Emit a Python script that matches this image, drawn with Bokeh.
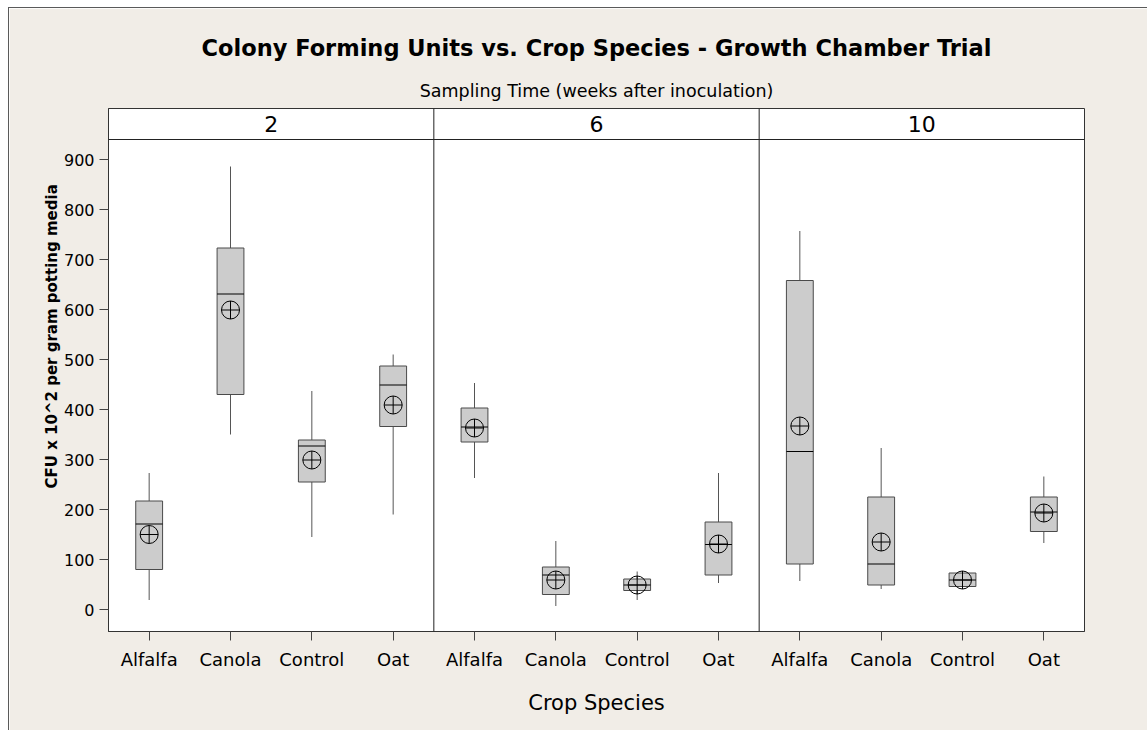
import numpy as np
from bokeh.plotting import figure
from bokeh.models import Range1d, FixedTicker, Span, Title
from bokeh.embed import file_html
from bokeh.resources import INLINE
from bokeh.core.properties import value

# ---------------- data ----------------
weeks = ["2", "6", "10"]
species = ["Alfalfa", "Canola", "Control", "Oat"]
# order: week 2 (Alfalfa, Canola, Control, Oat), week 6 (...), week 10 (...)
whisker_high = [273, 886, 437, 510, 453, 137, 76, 273, 757, 323, 76, 266]
q3 = [217, 723, 339, 487, 403, 85, 61, 175, 658, 225, 73, 225]
median = [171, 631, 327, 449, 365, 69, 49, 130, 316, 91, 59, 195]
mean = [150, 599, 299, 409, 363, 59, 49, 131, 367, 135, 59, 193]
q1 = [80, 430, 255, 366, 335, 30, 38, 69, 91, 49, 46, 156]
whisker_low = [19, 350, 145, 190, 263, 7, 19, 53, 57, 41, 43, 133]
y_ticks = [0, 100, 200, 300, 400, 500, 600, 700, 800, 900]

title_text = "Colony Forming Units vs. Crop Species - Growth Chamber Trial"
panel_text = "Sampling Time (weeks after inoculation)"
x_label = "Crop Species"
y_label = "CFU x 10^2 per gram potting media"

# ---------------- layout ----------------
FONT = "DejaVu Sans"
BG = "#F1EDE7"
n_groups = len(weeks)
n_cat = len(species)
pos = np.arange(1, n_groups * n_cat + 1, dtype=float)
box_w = 0.33
header_base = 940

p = figure(width=1139, height=723, output_backend="svg", toolbar_location=None,
           x_range=Range1d(0.5, n_groups * n_cat + 0.5), y_range=Range1d(-44, 1002),
           min_border_left=99, min_border_right=64, min_border_top=100, min_border_bottom=100)
p.styles = {"margin-left": "8px", "margin-top": "7px",
            "border-left": "1px solid #5a5a5a", "border-top": "1px solid #5a5a5a"}
p.border_fill_color = BG
p.background_fill_color = "white"
p.outline_line_color = "#333333"
p.outline_line_width = 1
p.xgrid.visible = False
p.ygrid.visible = False

# titles
p.add_layout(Title(text=panel_text, align="center", text_font=FONT, text_font_size="17.5px",
                   text_font_style="normal", text_color="black", standoff=15), "above")
p.add_layout(Title(text=title_text, align="center", text_font=FONT, text_font_size="22.5px",
                   text_font_style="bold", text_color="black", standoff=22), "above")
p.add_layout(Title(text=y_label, align="left", text_font=FONT, text_font_size="15px",
                   text_font_style="bold", text_color="black", standoff=0, offset=143), "left")

# axes
p.xaxis.ticker = FixedTicker(ticks=list(pos))
p.xaxis.major_label_overrides = {float(v): species[i % n_cat] for i, v in enumerate(pos)}
p.yaxis.ticker = FixedTicker(ticks=y_ticks)
for ax in (p.xaxis, p.yaxis):
    ax.axis_line_color = "#333333"
    ax.major_tick_line_color = "#444444"
    ax.major_tick_in = 0
    ax.major_tick_out = 9
    ax.minor_tick_line_color = None
    ax.major_label_text_font = FONT
    ax.major_label_text_color = "black"
p.xaxis.major_label_text_font_size = "18px"
p.xaxis.major_label_standoff = 8
p.yaxis.major_label_text_font_size = "16px"
p.yaxis.major_label_standoff = 5
p.xaxis.axis_label = x_label
p.xaxis.axis_label_text_font = FONT
p.xaxis.axis_label_text_font_size = "21px"
p.xaxis.axis_label_text_font_style = "normal"
p.xaxis.axis_label_text_color = "black"
p.xaxis.axis_label_standoff = 18

# panel dividers and header strip
for k in range(1, n_groups):
    p.add_layout(Span(location=k * n_cat + 0.5, dimension="height",
                      line_color="#222222", line_width=1))
p.add_layout(Span(location=header_base, dimension="width", line_color="#222222", line_width=1))
hx = [g * n_cat + (n_cat + 1) / 2 for g in range(n_groups)]
p.text(x=hx, y=[header_base + 32] * n_groups, text=weeks, text_font=value(FONT),
       text_font_size="22px", text_align="center", text_baseline="middle", text_color="black")

# whiskers
p.segment(pos, whisker_low, pos, q1, line_color="#555555", line_width=1)
p.segment(pos, q3, pos, whisker_high, line_color="#555555", line_width=1)
# boxes
p.vbar(x=pos, width=box_w, bottom=q1, top=q3, fill_color="#CCCCCC", line_color="#4a4a4a", line_width=1)
# medians
p.segment(pos - box_w / 2, median, pos + box_w / 2, median, line_color="black", line_width=1)
# means
p.scatter(pos, mean, marker="circle_cross", size=18, fill_color=None, line_color="black", line_width=1)

open("out.html", "w").write(file_html(p, INLINE))
